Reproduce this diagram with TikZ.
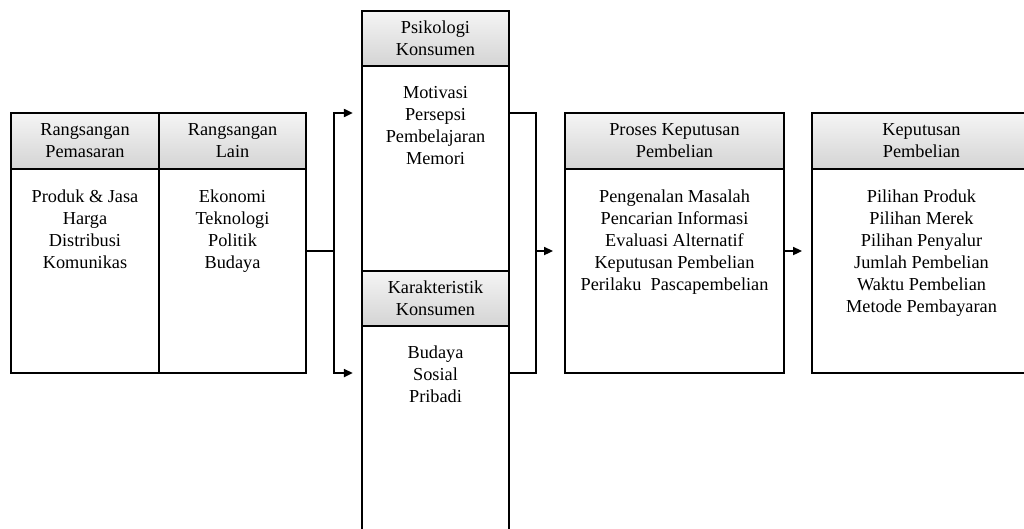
\documentclass[tikz,border=0pt]{standalone}
\usepackage{fontspec}
\setmainfont{Liberation Serif}
\usetikzlibrary{positioning,arrows.meta}

\tikzset{
  head/.style={draw, line width=1.2pt, outer sep=0pt, top color=black!4, bottom color=black!17,
    align=center, inner sep=0pt, font=\fontsize{13}{15.6}\selectfont},
  body/.style={draw, line width=1.2pt, outer sep=0pt, fill=white},
  txt/.style={align=center, inner sep=0pt, font=\fontsize{13}{15.6}\selectfont},
  line/.style={line width=1.2pt},
  arr/.style={line width=1.2pt, -{Triangle[length=2.2mm,width=2mm]}}
}

\begin{document}
\begin{tikzpicture}[x=0.025cm, y=-0.025cm]
\useasboundingbox (0,0) rectangle (1024,528);
\clip (0,0) rectangle (1024,528);

% rangsangan
\node[body, minimum width=3.7cm, minimum height=5.1cm] (b1body) at (85,271) {};
\node[head, minimum width=3.7cm, minimum height=1.4cm] (b1head) at (85,141) {Rangsangan\\Pemasaran};
\node[body, minimum width=3.675cm, minimum height=5.1cm] (b2body) at (232.5,271) {};
\node[head, minimum width=3.675cm, minimum height=1.4cm] (b2head) at (232.5,141) {Rangsangan\\Lain};
\node[txt, below=5.1mm of b1body.north] (b1txt) {Produk \& Jasa\\Harga\\Distribusi\\Komunikas};
\node[txt, below=5.1mm of b2body.north] (b2txt) {Ekonomi\\Teknologi\\Politik\\Budaya};

% konsumen
\node[body, minimum width=3.675cm, minimum height=5.125cm] (pk1body) at (435.5,168.5) {};
\node[head, minimum width=3.675cm, minimum height=1.375cm] (pk1head) at (435.5,38.5) {Psikologi\\Konsumen};
\node[body, minimum width=3.675cm, minimum height=5.5cm] (pk2body) at (435.5,436) {};
\node[head, minimum width=3.675cm, minimum height=1.375cm] (pk2head) at (435.5,298.5) {Karakteristik\\Konsumen};
\node[txt, below=5.1mm of pk1body.north] (pk1txt) {Motivasi\\Persepsi\\Pembelajaran\\Memori};
\node[txt, below=4.9mm of pk2body.north] (pk2txt) {Budaya\\Sosial\\Pribadi};

% proses keputusan
\node[body, minimum width=5.475cm, minimum height=5.1cm] (pdbody) at (674.5,271) {};
\node[head, minimum width=5.475cm, minimum height=1.4cm] (pdhead) at (674.5,141) {Proses Keputusan\\Pembelian};
\node[txt, below=5.1mm of pdbody.north] (pdtxt) {Pengenalan Masalah\\Pencarian Informasi\\Evaluasi Alternatif\\Keputusan Pembelian\\Perilaku\ \ Pascapembelian};

% keputusan pembelian
\node[body, minimum width=5.475cm, minimum height=5.1cm] (kpbody) at (921.5,271) {};
\node[head, minimum width=5.475cm, minimum height=1.4cm] (kphead) at (921.5,141) {Keputusan\\Pembelian};
\node[txt, below=5.1mm of kpbody.north] (kptxt) {Pilihan Produk\\Pilihan Merek\\Pilihan Penyalur\\Jumlah Pembelian\\Waktu Pembelian\\Metode Pembayaran};

% connectors
\coordinate (split) at (334,251);
\coordinate (join) at (536,251);
\draw[line] (b2body.east |- split) -- (split);
\draw[arr] (split) |- ([xshift=-0.23cm]pk1body.west |- b1head.north);
\draw[arr] (split) |- ([xshift=-0.23cm]pk2body.west |- b1body.south);
\draw[line] (pk1body.east |- b1head.north) -| (join) |- (pk2body.east |- b1body.south);
\draw[arr] (join) -- ([xshift=-0.3cm]pdbody.west |- join);
\draw[arr] (pdbody.east |- join) -- ([xshift=-0.25cm]kpbody.west |- join);
\end{tikzpicture}
\end{document}
